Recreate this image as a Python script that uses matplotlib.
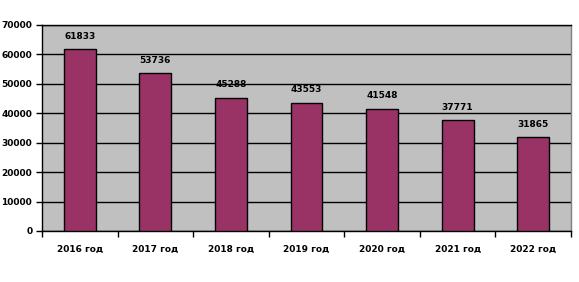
import matplotlib
matplotlib.use("Agg")
import matplotlib.pyplot as plt
import numpy as np

categories = ["2016 год", "2017 год", "2018 год", "2019 год", "2020 год", "2021 год", "2022 год"]
values = [61833, 53736, 45288, 43553, 41548, 37771, 31865]
yticks = [0, 10000, 20000, 30000, 40000, 50000, 60000, 70000]

fig = plt.figure(figsize=(5.79, 2.82), dpi=100)
ax = fig.add_axes([42/579, 51/282, 529/579, 206/282])
ax.set_facecolor("#C0C0C0")
x = np.arange(len(categories))
ax.bar(x, values, width=0.42, color="#993366", edgecolor="black", linewidth=1, zorder=3)
ax.set_xlim(-0.5, len(categories) - 0.5)
ax.set_ylim(0, 70000)
ax.set_yticks(yticks)
ax.set_yticklabels([str(v) for v in yticks], fontsize=6.5, fontweight="bold")
ax.yaxis.grid(True, color="black", linewidth=1, zorder=1)
ax.set_axisbelow(True)
ax.set_xticks(np.arange(-0.5, len(categories) + 0.5, 1))
ax.set_xticklabels([])
ax.set_xticks(x, minor=True)
ax.set_xticklabels(categories, minor=True, fontsize=6.5, fontweight="bold")
ax.tick_params(axis="x", which="minor", length=0, pad=10)
ax.tick_params(axis="x", which="major", length=4, width=1, direction="out")
ax.tick_params(axis="y", length=4, width=1, direction="out", pad=3)
for s in ["left", "bottom", "top"]:
    ax.spines[s].set_color("black")
    ax.spines[s].set_linewidth(1)
ax.spines["right"].set_color("#808080")
ax.spines["right"].set_linewidth(1)
for xi, v in zip(x, values):
    ax.annotate(str(v), (xi, v), xytext=(0, 6), textcoords="offset points",
                ha="center", va="bottom", fontsize=6.5, fontweight="bold")
fig.savefig("out.png", dpi=100)
